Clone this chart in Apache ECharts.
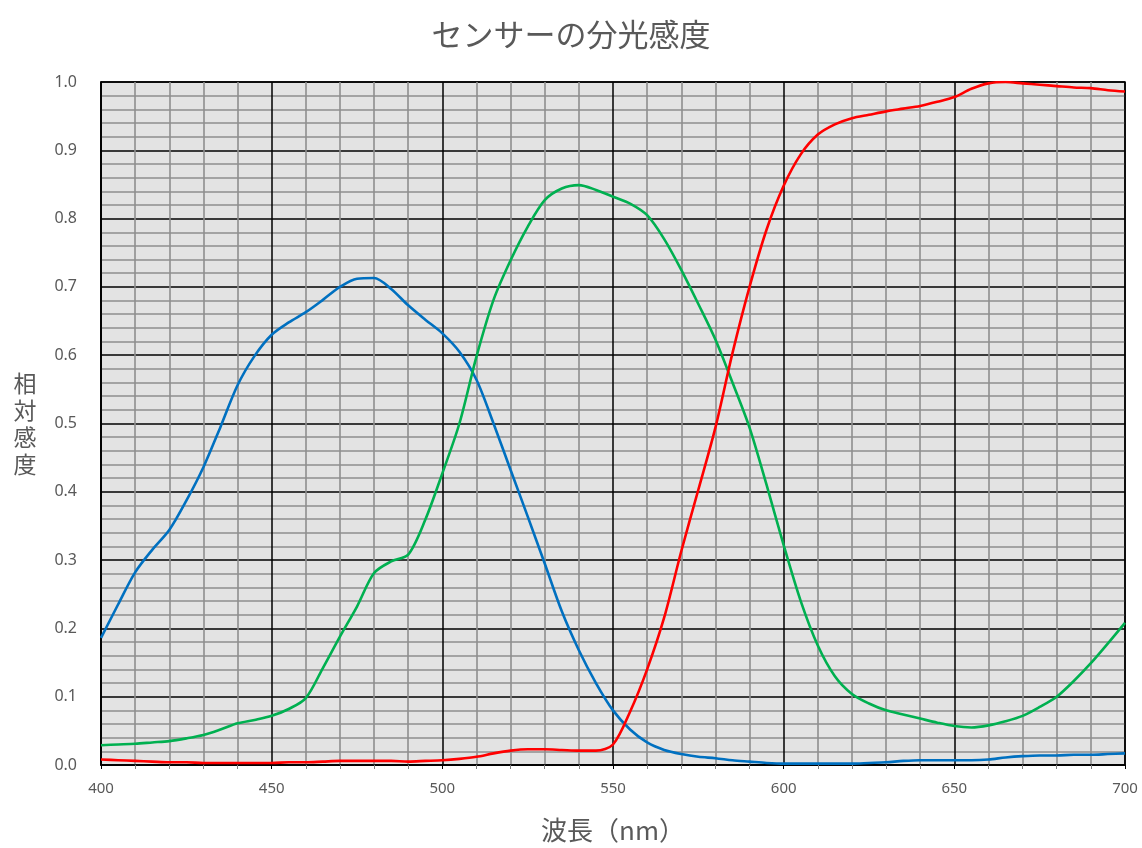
<!DOCTYPE html>
<html>
<head>
<meta charset="utf-8">
<script src="https://cdn.jsdelivr.net/npm/echarts@6/dist/echarts.min.js"></script>
<style>
html,body{margin:0;padding:0;background:#fff;}
#chart{width:1142px;height:848px;}
</style>
</head>
<body>
<div id="chart"></div>
<script>
// Data (wavelength in nm, relative sensitivity)
const wavelengths = [400,405,410,415,420,425,430,435,440,445,450,455,460,465,470,475,480,485,490,495,500,505,510,515,520,525,530,535,540,545,550,555,560,565,570,575,580,585,590,595,600,605,610,615,620,625,630,635,640,645,650,655,660,665,670,675,680,685,690,695,700];
const blueValues = [0.186,0.235,0.282,0.315,0.344,0.387,0.436,0.495,0.556,0.599,0.630,0.648,0.663,0.681,0.700,0.712,0.713,0.697,0.673,0.652,0.632,0.605,0.564,0.500,0.432,0.364,0.295,0.225,0.168,0.120,0.080,0.052,0.033,0.022,0.016,0.012,0.010,0.007,0.005,0.003,0.002,0.002,0.002,0.002,0.002,0.003,0.004,0.006,0.007,0.007,0.007,0.007,0.008,0.011,0.013,0.014,0.014,0.015,0.015,0.016,0.017];
const greenValues = [0.029,0.030,0.031,0.033,0.035,0.039,0.044,0.052,0.061,0.066,0.072,0.082,0.098,0.142,0.188,0.232,0.281,0.298,0.308,0.359,0.427,0.500,0.598,0.681,0.739,0.788,0.827,0.844,0.849,0.842,0.832,0.822,0.805,0.770,0.725,0.675,0.623,0.560,0.494,0.410,0.322,0.240,0.175,0.130,0.104,0.090,0.080,0.074,0.068,0.062,0.057,0.055,0.058,0.064,0.072,0.085,0.100,0.123,0.149,0.178,0.208];
const redValues = [0.008,0.007,0.006,0.005,0.004,0.004,0.003,0.003,0.003,0.003,0.003,0.004,0.004,0.005,0.006,0.006,0.006,0.006,0.005,0.006,0.007,0.009,0.012,0.017,0.021,0.023,0.023,0.022,0.021,0.021,0.030,0.078,0.140,0.216,0.313,0.403,0.494,0.603,0.700,0.784,0.848,0.894,0.923,0.938,0.947,0.952,0.957,0.961,0.965,0.971,0.978,0.990,0.998,1.000,0.998,0.996,0.994,0.992,0.991,0.988,0.986];

const titleText = 'センサーの分光感度';
const xAxisName = '波長（nm）';
const yAxisName = '相対感度';

const pairs = vals => wavelengths.map((w, i) => [w, vals[i]]);
const jp = '"Noto Sans CJK JP", "Noto Sans", sans-serif';
const lab = '"Noto Sans", "Open Sans", sans-serif';

const chart = echarts.init(document.getElementById('chart'), null, {renderer: 'canvas'});
const lineSeries = (name, vals, color) => ({
  name, type: 'line', data: pairs(vals), smooth: 0.3,
  showSymbol: false, symbol: 'none', lineStyle: {color, width: 2.6}, itemStyle: {color},
  clip: true, z: 5
});

chart.setOption({
  animation: false,
  backgroundColor: '#ffffff',
  title: {
    text: titleText, left: 'center', top: 14,
    textStyle: {fontFamily: jp, fontSize: 31, fontWeight: 'normal', color: '#595959'}
  },
  grid: {
    left: 101, right: 17, top: 82, bottom: 83,
    show: true, backgroundColor: '#e3e3e3', borderColor: '#000', borderWidth: 1.5
  },
  xAxis: {
    type: 'value', min: 400, max: 700, interval: 50,
    name: xAxisName, nameLocation: 'middle', nameGap: 52,
    nameTextStyle: {fontFamily: jp, fontSize: 26, color: '#595959'},
    axisLine: {show: true, lineStyle: {color: '#000', width: 1.5}},
    axisTick: {show: true, length: 4, lineStyle: {color: '#000'}},
    minorTick: {show: true, splitNumber: 5, length: 4, lineStyle: {color: '#808080'}},
    axisLabel: {fontFamily: lab, fontSize: 15, color: '#595959', margin: 16},
    splitLine: {show: true, lineStyle: {color: '#000', width: 1.5}},
    minorSplitLine: {show: true, lineStyle: {color: '#8e8e8e', width: 1.6}}
  },
  yAxis: {
    type: 'value', min: 0, max: 1, interval: 0.1,
    name: yAxisName.split('').join('\n'), nameLocation: 'middle', nameGap: 76, nameRotate: 0,
    nameTextStyle: {fontFamily: jp, fontSize: 23, color: '#595959', lineHeight: 27, align: 'center', verticalAlign: 'middle', padding: [0, 0, 18, 0]},
    axisLine: {show: true, lineStyle: {color: '#000', width: 1.5}},
    axisTick: {show: false},
    minorTick: {show: false, splitNumber: 5},
    axisLabel: {fontFamily: lab, fontSize: 16, color: '#595959', margin: 24, formatter: v => v.toFixed(1)},
    splitLine: {show: true, lineStyle: {color: '#000', width: 1.5}},
    minorSplitLine: {show: true, lineStyle: {color: '#8e8e8e', width: 1.6}}
  },
  series: [
    lineSeries('B', blueValues, '#0070C0'),
    lineSeries('G', greenValues, '#00B050'),
    lineSeries('R', redValues, '#FF0000')
  ]
});
</script>
</body>
</html>
